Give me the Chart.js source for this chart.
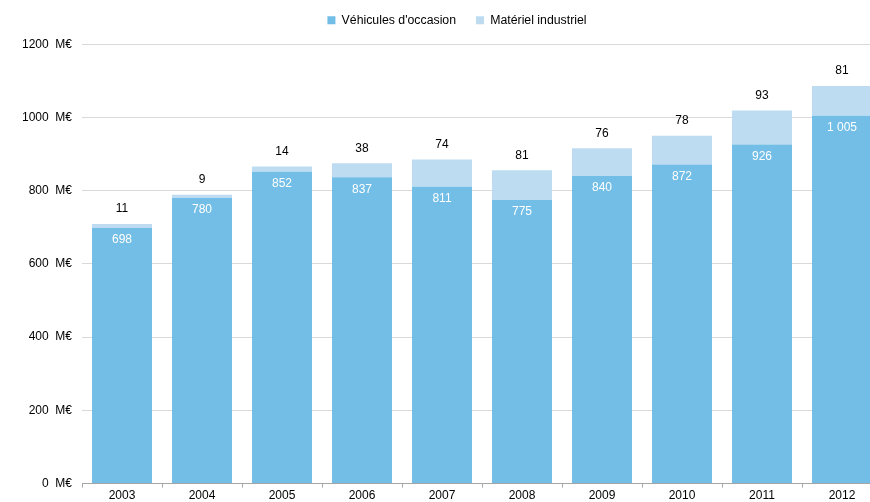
<!DOCTYPE html>
<html>
<head>
<meta charset="utf-8">
<script src="https://cdn.jsdelivr.net/npm/chart.js@4.4.1/dist/chart.umd.min.js"></script>
<style>
  html, body { margin: 0; padding: 0; background: #fff; overflow: hidden; }
  #wrap { position: relative; width: 890px; height: 502px; }
</style>
</head>
<body>
<div id="wrap"><canvas id="financeChart"></canvas></div>
<script>
const years = ['2003', '2004', '2005', '2006', '2007', '2008', '2009', '2010', '2011', '2012'];
const vehicules = [698, 780, 852, 837, 811, 775, 840, 872, 926, 1005];
const materiel = [11, 9, 14, 38, 74, 81, 76, 78, 93, 81];
const yTicks = [0, 200, 400, 600, 800, 1000, 1200];

function frNumber(v) {
  return String(v).replace(/\B(?=(\d{3})+(?!\d))/g, ' ');
}

const labelPlugin = {
  id: 'barLabels',
  afterDatasetsDraw(chart) {
    const ctx = chart.ctx;
    const metaA = chart.getDatasetMeta(0);
    const metaB = chart.getDatasetMeta(1);
    ctx.save();
    ctx.font = '12px "Liberation Sans", Arial, sans-serif';
    ctx.textAlign = 'center';
    ctx.textBaseline = 'middle';
    metaA.data.forEach((bar, i) => {
      ctx.fillStyle = '#ffffff';
      ctx.fillText(frNumber(vehicules[i]), bar.x, bar.y + 12);
    });
    metaB.data.forEach((bar, i) => {
      ctx.fillStyle = '#000000';
      ctx.fillText(frNumber(materiel[i]), bar.x, bar.y - 15);
    });
    ctx.restore();
  }
};

// legend: extra gap below it, and nudge it a bit to the right
const legendTweak = {
  id: 'legendTweak',
  beforeInit(chart) {
    const fit = chart.legend.fit;
    chart.legend.fit = function () {
      fit.bind(chart.legend)();
      this.height += 8;
    };
  },
  afterLayout(chart) {
    chart.legend.left += 16;
    chart.legend.right += 16;
  }
};

document.addEventListener('DOMContentLoaded', function () {
  const ctx = document.getElementById('financeChart').getContext('2d');
  Chart.defaults.font.family = '"Liberation Sans", Arial, sans-serif';
  Chart.defaults.font.size = 12;
  Chart.defaults.color = '#000';
  new Chart(ctx, {
    type: 'bar',
    data: {
      labels: years,
      datasets: [{
        label: "Véhicules d'occasion",
        data: vehicules,
        backgroundColor: '#72bee6',
        borderWidth: 0,
        categoryPercentage: 0.75,
        barPercentage: 1
      }, {
        label: 'Matériel industriel',
        data: materiel,
        backgroundColor: '#bddcf1',
        borderWidth: 0,
        categoryPercentage: 0.75,
        barPercentage: 1
      }]
    },
    options: {
      responsive: true,
      maintainAspectRatio: false,
      animation: false,
      layout: { padding: { left: 0, right: 8, top: -6, bottom: -2 } },
      scales: {
        x: {
          stacked: true,
          grid: { display: true, drawOnChartArea: false, drawTicks: true, tickLength: 4, color: '#a6a6a6', offset: true },
          border: { color: '#a6a6a6' },
          ticks: { padding: 1, font: { size: 12 }, color: '#000' }
        },
        y: {
          stacked: true,
          min: 0,
          max: 1200,
          afterBuildTicks(scale) {
            scale.ticks = yTicks.map(v => ({ value: v }));
          },
          afterFit(scale) { scale.width = 82; },
          grid: { color: '#d9d9d9', drawTicks: false },
          border: { display: false },
          ticks: {
            padding: 10,
            color: '#000',
            callback: v => v + '  M€'
          }
        }
      },
      plugins: {
        legend: {
          position: 'top',
          labels: { boxWidth: 8, boxHeight: 8, padding: 20, color: '#000', font: { size: 12.3 } }
        },
        tooltip: { enabled: false }
      }
    },
    plugins: [labelPlugin, legendTweak]
  });
});
</script>
</body>
</html>
